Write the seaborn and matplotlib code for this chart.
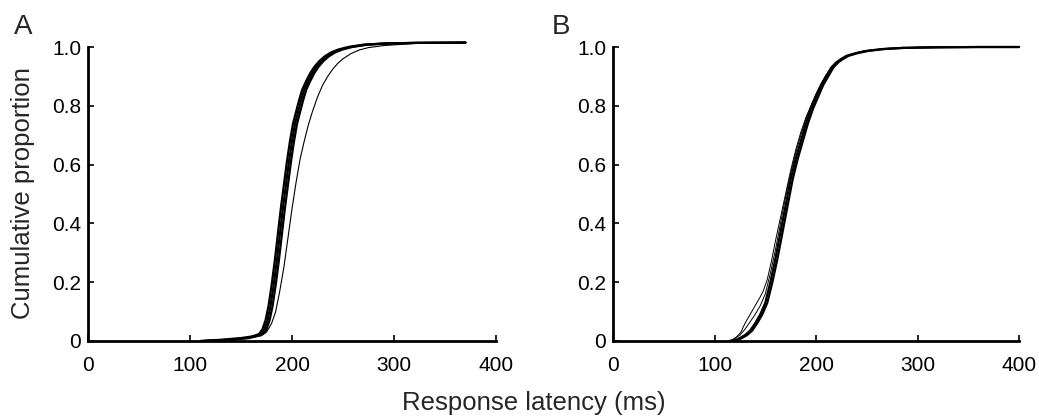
import numpy as np
import pandas as pd
import seaborn as sns
import matplotlib
matplotlib.use("Agg")
import matplotlib.pyplot as plt

# Panel A: cumulative latency curves (ms, proportion)
a1_x = [110, 130, 150, 160, 165, 168, 171, 174, 177, 180, 183, 186, 189, 192, 195, 198, 201, 204, 207, 210, 214, 218, 222, 227, 232, 238, 245, 255, 270, 290, 320, 370]
a1_y = [0, 0.004, 0.01, 0.015, 0.02, 0.025, 0.04, 0.07, 0.12, 0.19, 0.27, 0.36, 0.45, 0.53, 0.61, 0.68, 0.74, 0.78, 0.82, 0.855, 0.885, 0.912, 0.933, 0.953, 0.968, 0.981, 0.991, 1.0, 1.008, 1.012, 1.014, 1.015]
a2_x = [112, 135, 155, 163, 167, 170, 173, 176, 179, 182, 185, 188, 191, 194, 197, 200, 203, 206, 209, 212, 216, 220, 224, 229, 234, 240, 247, 257, 272, 292, 322, 370]
a2_y = [0, 0.004, 0.01, 0.016, 0.02, 0.026, 0.04, 0.07, 0.12, 0.19, 0.27, 0.36, 0.45, 0.53, 0.61, 0.68, 0.74, 0.78, 0.82, 0.855, 0.885, 0.912, 0.933, 0.953, 0.968, 0.981, 0.991, 1.0, 1.008, 1.012, 1.014, 1.015]
a3_x = [115, 140, 158, 165, 169, 172, 175, 178, 181, 184, 187, 190, 193, 196, 199, 202, 205, 208, 211, 214, 218, 222, 226, 231, 236, 242, 249, 259, 274, 294, 324, 370]
a3_y = [0, 0.004, 0.01, 0.016, 0.02, 0.026, 0.04, 0.07, 0.12, 0.19, 0.27, 0.36, 0.45, 0.53, 0.61, 0.68, 0.74, 0.78, 0.82, 0.855, 0.885, 0.912, 0.933, 0.953, 0.968, 0.981, 0.991, 1.0, 1.008, 1.012, 1.014, 1.015]
a4_x = [110, 140, 160, 170, 175, 180, 184, 188, 192, 196, 200, 204, 208, 212, 216, 220, 225, 230, 235, 240, 245, 250, 258, 266, 275, 290, 320, 370]
a4_y = [0, 0.005, 0.012, 0.018, 0.03, 0.06, 0.1, 0.17, 0.25, 0.35, 0.45, 0.54, 0.62, 0.68, 0.735, 0.78, 0.83, 0.87, 0.9, 0.925, 0.945, 0.96, 0.978, 0.99, 0.998, 1.005, 1.012, 1.015]

# Panel B
b1_x = [118, 122, 126, 130, 135, 140, 145, 150, 155, 160, 165, 170, 175, 180, 185, 190, 195, 200, 205, 210, 215, 220, 225, 230, 240, 250, 265, 285, 320, 360, 400]
b1_y = [0, 0.005, 0.012, 0.02, 0.035, 0.06, 0.09, 0.13, 0.2, 0.28, 0.37, 0.46, 0.55, 0.62, 0.68, 0.74, 0.79, 0.83, 0.87, 0.9, 0.93, 0.948, 0.96, 0.97, 0.98, 0.987, 0.993, 0.997, 0.999, 1.0, 1.0]
b2_x = [120, 124, 128, 132, 137, 142, 147, 152, 157, 162, 167, 172, 177, 182, 187, 192, 197, 202, 207, 212, 217, 222, 227, 232, 242, 252, 267, 287, 320, 360, 400]
b2_y = [0, 0.005, 0.012, 0.02, 0.035, 0.06, 0.09, 0.13, 0.2, 0.28, 0.37, 0.46, 0.55, 0.62, 0.68, 0.74, 0.79, 0.83, 0.87, 0.9, 0.93, 0.948, 0.96, 0.97, 0.98, 0.987, 0.993, 0.997, 0.999, 1.0, 1.0]
b3_x = [112, 118, 122, 126, 130, 135, 140, 145, 148, 152, 156, 160, 165, 170, 175, 180, 185, 190, 195, 200, 205, 210, 215, 220, 230, 245, 270, 300, 350, 400]
b3_y = [0, 0.005, 0.015, 0.03, 0.06, 0.09, 0.12, 0.15, 0.17, 0.21, 0.27, 0.34, 0.42, 0.5, 0.58, 0.65, 0.71, 0.76, 0.8, 0.84, 0.875, 0.905, 0.93, 0.948, 0.97, 0.985, 0.995, 0.999, 1.0, 1.0]
b4_x = [115, 120, 125, 130, 135, 140, 145, 150, 155, 160, 165, 170, 175, 180, 185, 190, 195, 200, 205, 210, 215, 220, 230, 245, 270, 300, 350, 400]
b4_y = [0, 0.008, 0.02, 0.04, 0.065, 0.09, 0.12, 0.16, 0.23, 0.31, 0.4, 0.49, 0.57, 0.64, 0.7, 0.755, 0.8, 0.84, 0.875, 0.905, 0.93, 0.948, 0.97, 0.985, 0.995, 0.999, 1.0, 1.0]

panels = {
    "A": [(a1_x, a1_y, 1.6), (a2_x, a2_y, 1.6), (a3_x, a3_y, 1.6), (a4_x, a4_y, 0.8)],
    "B": [(b1_x, b1_y, 1.6), (b2_x, b2_y, 1.6), (b3_x, b3_y, 0.7), (b4_x, b4_y, 0.7)],
}
x_ticks = [0, 100, 200, 300, 400]
y_ticks = [0, 0.2, 0.4, 0.6, 0.8, 1.0]
y_labels = ["0", "0.2", "0.4", "0.6", "0.8", "1.0"]

sns.set_style("ticks")
plt.rcParams["font.family"] = ["Liberation Sans", "DejaVu Sans"]

fig = plt.figure(figsize=(10.39, 4.16), dpi=100)
axA = fig.add_axes([0.0847, 0.1803, 0.3927, 0.7067])
axB = fig.add_axes([0.590, 0.1803, 0.3908, 0.7067])

for ax, key in [(axA, "A"), (axB, "B")]:
    for xs, ys, lw in panels[key]:
        sns.lineplot(x=xs, y=ys, ax=ax, color="black", linewidth=lw,
                     estimator=None, sort=False, clip_on=False)
    ax.set_xlim(0, 400)
    ax.set_ylim(0, 1.0)
    ax.set_xticks(x_ticks)
    ax.set_xticklabels([str(t) for t in x_ticks])
    ax.set_yticks(y_ticks)
    ax.set_yticklabels(y_labels)
    sns.despine(ax=ax)
    for s in ["left", "bottom"]:
        ax.spines[s].set_linewidth(2.0)
        ax.spines[s].set_color("black")
    ax.tick_params(axis="both", direction="in", length=4, width=1.2,
                   labelsize=15, colors="black")
    ax.tick_params(axis="x", pad=11)
    ax.tick_params(axis="y", pad=5)
    ax.set_xlabel("")
    ax.set_ylabel("")

fig.text(0.022, 0.536, "Cumulative proportion", rotation=90, ha="center",
         va="center", fontsize=18.5)
fig.text(0.514, 0.031, "Response latency (ms)", ha="center", va="center",
         fontsize=18.5)
fig.text(0.022, 0.934, "A", ha="center", va="center", fontsize=20)
fig.text(0.540, 0.934, "B", ha="center", va="center", fontsize=20)

fig.savefig("out.png", dpi=100)
